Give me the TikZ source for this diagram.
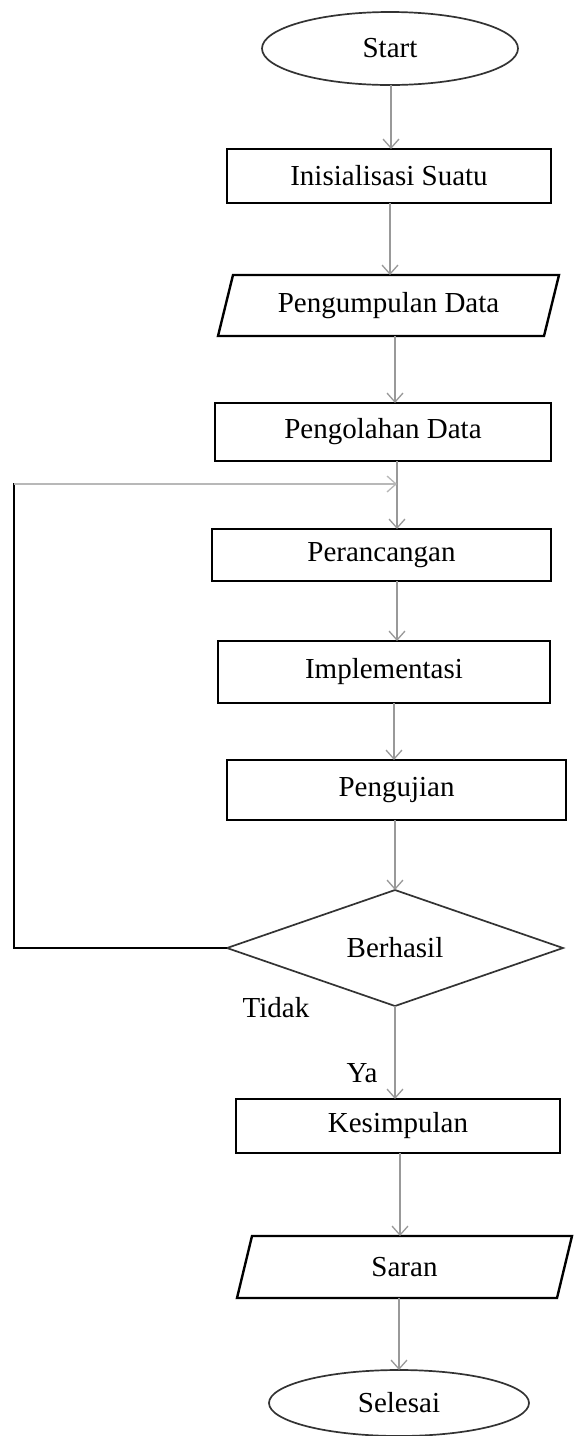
\documentclass[tikz,border=0pt]{standalone}
\usepackage{fontspec}
\setmainfont{Liberation Serif}
\usetikzlibrary{arrows.meta,shapes.geometric,calc}
\begin{document}
\begin{tikzpicture}[x=1pt,y=-1pt,
  every node/.style={font=\fontsize{29}{32}\selectfont, inner sep=0pt, outer sep=0pt},
  procbox/.style={draw=black, line width=2.6pt, rectangle},
  termin/.style={draw=black!80, line width=1.7pt, ellipse},
  hid/.style={rectangle},
  slantline/.style={draw=black, line width=2.4pt},
  decline/.style={draw=black!80, line width=1.7pt},
  arr/.style={draw=black!40, line width=1.4pt, -{Straight Barb[length=9pt,width=16pt,line width=1.3pt]}},
  fbline/.style={draw=black, line width=2.6pt},
  fbarr/.style={draw=black!28, line width=1.8pt, -{Straight Barb[length=9pt,width=16pt,line width=1.3pt]}}
]
\fill[white] (0,0) rectangle (574,1436);
\useasboundingbox (0,0) rectangle (574,1436);

% nodes
\node[termin, minimum width=256pt, minimum height=73pt] (st) at (390,48.5) {Start};
\node[procbox, minimum width=324pt, minimum height=54pt] (ini) at (389,176) {Inisialisasi Suatu};
\node[hid, minimum width=326pt, minimum height=61pt] (pd) at (388.5,305.5) {Pengumpulan Data};
\draw[slantline] ($(pd.north west)+(7.5pt,0)$) -- ($(pd.north east)+(7.5pt,0)$) -- ($(pd.south east)+(-7.5pt,0)$) -- ($(pd.south west)+(-7.5pt,0)$) -- cycle;
\node[procbox, minimum width=336pt, minimum height=58pt] (po) at (383,432) {Pengolahan Data};
\node[procbox, minimum width=339pt, minimum height=52pt] (pr) at (381.5,555) {Perancangan};
\node[procbox, minimum width=332pt, minimum height=62pt] (im) at (384,672) {Implementasi};
\node[procbox, minimum width=339pt, minimum height=60pt] (pu) at (396.5,790) {Pengujian};
\node[hid, minimum width=336pt, minimum height=116pt] (dec) at (395,948) {Berhasil};
\draw[decline] (dec.north) -- (dec.east) -- (dec.south) -- (dec.west) -- cycle;
\node[procbox, minimum width=324pt, minimum height=54pt] (ke) at (398,1126) {Kesimpulan};
\node[hid, minimum width=320pt, minimum height=62pt] (sa) at (404.5,1267) {Saran};
\draw[slantline] ($(sa.north west)+(7.5pt,0)$) -- ($(sa.north east)+(7.5pt,0)$) -- ($(sa.south east)+(-7.5pt,0)$) -- ($(sa.south west)+(-7.5pt,0)$) -- cycle;
\node[termin, minimum width=260pt, minimum height=66pt] (se) at (399,1403) {Selesai};

\node (tidak) at (276,1008) {Tidak};
\node (ya) at (362,1073) {Ya};

% connectors
\draw[arr] (391,0 |- st.south) -- (391,0 |- ini.north);
\draw[arr] (390,0 |- ini.south) -- (390,0 |- pd.north);
\draw[arr] (395,0 |- pd.south) -- (395,0 |- po.north);
\draw[arr] (397,0 |- po.south) -- (397,0 |- pr.north);
\draw[arr] (397,0 |- pr.south) -- (397,0 |- im.north);
\draw[arr] (394,0 |- im.south) -- (394,0 |- pu.north);
\draw[arr] (dec.north |- pu.south) -- (dec.north);
\draw[arr] (dec.south) -- (dec.south |- ke.north);
\draw[arr] (400,0 |- ke.south) -- (400,0 |- sa.north);
\draw[arr] (399,0 |- sa.south) -- (399,0 |- se.north);

% feedback loop
\coordinate (fb1) at (14,948);
\coordinate (fb2) at (14,484);
\coordinate (fj) at (397,484);
\draw[fbline] (dec.west) -- (fb1) -- (14,482.7);
\draw[fbarr] (fb2) -- (fj);
\end{tikzpicture}
\end{document}
